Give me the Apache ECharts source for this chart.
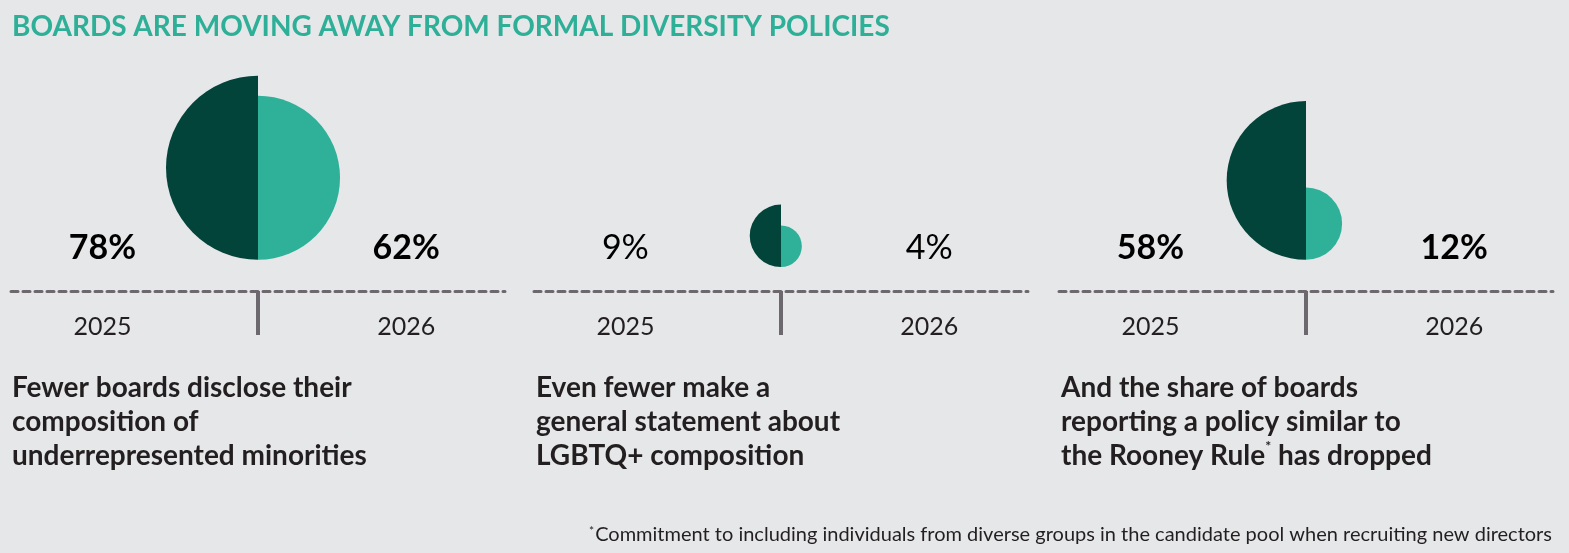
<!DOCTYPE html>
<html>
<head>
<meta charset="utf-8">
<title>Boards are moving away from formal diversity policies</title>
<script src="https://cdn.jsdelivr.net/npm/echarts@6/dist/echarts.min.js"></script>
<style>
  html, body { margin: 0; padding: 0; background: #e6e7e9; }
  #main { width: 1569px; height: 553px; }
</style>
</head>
<body>
<div id="main"></div>
<script>
// data
const years = ['2025', '2026']
const values2025 = [78, 9, 58]
const values2026 = [62, 4, 12]
const captions = [
  'Fewer boards disclose their\ncomposition of\nunderrepresented minorities',
  'Even fewer make a\ngeneral statement about\nLGBTQ+ composition',
  'And the share of boards\nreporting a policy similar to\nthe Rooney Rule{sup|*} has dropped'
]
const chartTitle = 'BOARDS ARE MOVING AWAY FROM FORMAL DIVERSITY POLICIES'
const footnote = '{sup|*}Commitment to including individuals from diverse groups in the candidate pool when recruiting new directors'

// layout
const DARK = '#03443a'
const TEAL = '#2eb099'
const AXIS = '#6d676e'
const INK = '#231f20'
const FONT = 'Lato'
const panelLeft = [11, 534, 1059]
const panelWidth = 494
const labelPos = [-0.63, 0.6]      // where the year / % labels sit on the x axis
const baseLift = [3, 2.3, 3]       // gap between axis and bottom of circles (y units)
const pctY = 4.13                  // y of percentage labels (y units)
const boldPct = [true, false, true]

let chart = echarts.init(document.getElementById('main'), null, { renderer: 'canvas' })

function makeRender(p) {
  return function (params, api) {
    const v = api.value(1)
    const idx = params.dataIndex
    // radius by area: r ~ sqrt(value)
    const r = api.size([0, Math.sqrt(v)])[1]
    const c = api.coord([0, baseLift[p] + Math.sqrt(v)])
    const lp = api.coord([api.value(0), pctY])
    const left = idx === 0
    return {
      type: 'group',
      children: [{
        type: 'sector',
        shape: {
          cx: c[0], cy: c[1], r0: 0, r: r,
          startAngle: left ? Math.PI / 2 : -Math.PI / 2,
          endAngle: left ? Math.PI * 3 / 2 : Math.PI / 2,
          clockwise: true
        },
        style: { fill: left ? DARK : TEAL }
      }, {
        type: 'text',
        x: lp[0], y: lp[1],
        style: {
          text: v + '%',
          fill: '#000',
          font: (boldPct[p] ? 'bold ' : '') + '34px ' + FONT,
          align: 'center',
          verticalAlign: 'middle'
        }
      }]
    }
  }
}

let grids = [], xAxes = [], yAxes = [], series = [], titles = []

titles.push({
  text: chartTitle,
  left: 7, top: 8,
  textStyle: { color: '#2eaf97', fontSize: 28, fontWeight: 'bold', fontFamily: FONT }
})
titles.push({
  text: footnote,
  right: 12, top: 520,
  textStyle: {
    color: INK, fontSize: 20, fontWeight: 'normal', fontFamily: FONT,
    rich: { sup: { fontSize: 12, verticalAlign: 'top', color: INK, fontFamily: FONT, padding: [0, 1, 8, 0] } }
  }
})

for (let p = 0; p < 3; p++) {
  grids.push({ left: panelLeft[p], width: panelWidth, top: 41, bottom: 262 })
  xAxes.push({
    gridIndex: p,
    type: 'value',
    min: -1, max: 1,
    axisLine: { show: true, onZero: false, lineStyle: { color: AXIS, width: 3, type: [7, 5] } },
    axisTick: { show: true, customValues: [0], length: 44, inside: false, lineStyle: { color: AXIS, width: 4 } },
    axisLabel: {
      customValues: labelPos,
      formatter: function (val) { return val < 0 ? years[0] : years[1] },
      margin: 23,
      fontSize: 25,
      fontWeight: 'normal',
      fontFamily: FONT,
      color: INK
    },
    splitLine: { show: false }
  })
  yAxes.push({ gridIndex: p, type: 'value', min: 0, max: 24, show: false })
  series.push({
    type: 'custom',
    xAxisIndex: p,
    yAxisIndex: p,
    clip: false,
    renderItem: makeRender(p),
    encode: { x: 0, y: 1 },
    data: [[labelPos[0], values2025[p]], [labelPos[1], values2026[p]]]
  })
  titles.push({
    text: captions[p],
    left: panelLeft[p] - (p === 0 ? 4 : 3),
    top: 366,
    textStyle: {
      color: INK, fontSize: 28, fontWeight: 'bold', fontFamily: FONT, lineHeight: 34,
      rich: { sup: { fontSize: 14, fontWeight: 'bold', color: INK, fontFamily: FONT, verticalAlign: 'top', lineHeight: 34, padding: [0, 0, 12, 0] } }
    }
  })
}

chart.setOption({
  backgroundColor: '#e6e7e9',
  animation: false,
  title: titles,
  grid: grids,
  xAxis: xAxes,
  yAxis: yAxes,
  series: series
})
</script>
</body>
</html>
